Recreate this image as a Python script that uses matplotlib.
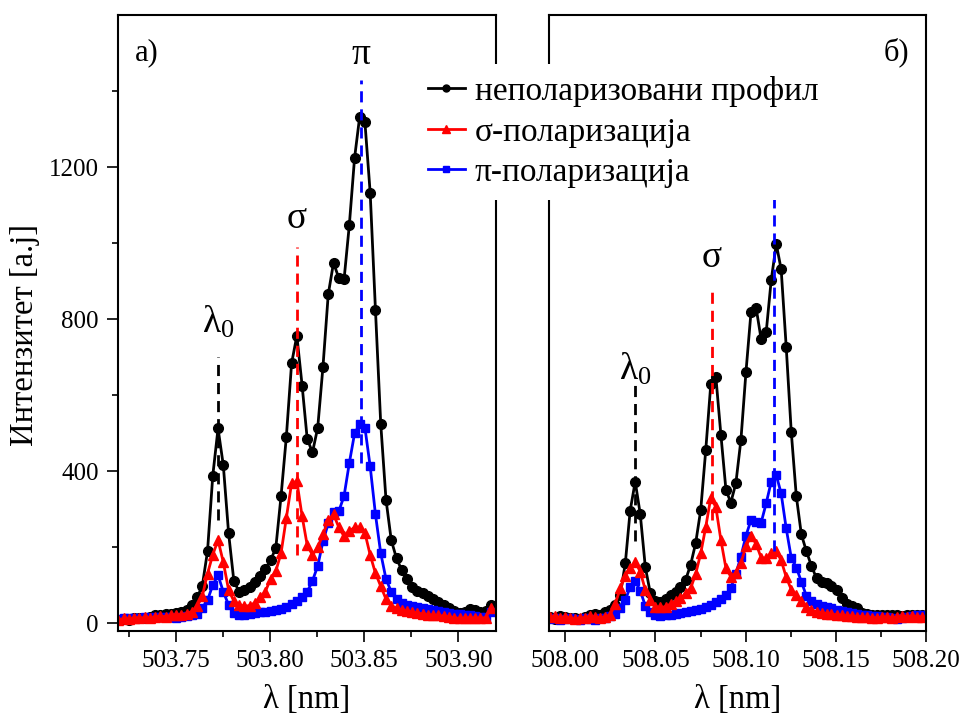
import matplotlib
matplotlib.use("Agg")
import matplotlib.pyplot as plt
from matplotlib.ticker import MultipleLocator, FixedLocator
from matplotlib.lines import Line2D

plt.rcParams['font.family'] = ['Liberation Serif', 'DejaVu Serif']
plt.rcParams['mathtext.fontset'] = 'custom'
plt.rcParams['mathtext.rm'] = 'Liberation Serif'
plt.rcParams['mathtext.default'] = 'rm'

# panel a) 503.7 nm
wl_a = [503.7192, 503.7220, 503.7248, 503.7276, 503.7304, 503.7332, 503.7359, 503.7387,
        503.7415, 503.7443, 503.7471, 503.7499, 503.7527, 503.7555, 503.7583, 503.7611,
        503.7638, 503.7666, 503.7694, 503.7722, 503.7750, 503.7778, 503.7806, 503.7834,
        503.7862, 503.7890, 503.7917, 503.7945, 503.7973, 503.8001, 503.8029, 503.8057,
        503.8085, 503.8113, 503.8141, 503.8169, 503.8196, 503.8224, 503.8252, 503.8280,
        503.8308, 503.8336, 503.8364, 503.8392, 503.8420, 503.8448, 503.8475, 503.8503,
        503.8531, 503.8559, 503.8587, 503.8615, 503.8643, 503.8671, 503.8699, 503.8727,
        503.8754, 503.8782, 503.8810, 503.8838, 503.8866, 503.8894, 503.8922, 503.8950,
        503.8978, 503.9006, 503.9033, 503.9061, 503.9089, 503.9117, 503.9145, 503.9173]
unpol_a = [8, 10, 9, 12, 14, 13, 17, 20, 22, 25, 24, 27, 30, 34, 48, 68,
           97, 189, 388, 512, 415, 237, 111, 82, 87, 94, 107, 123, 141, 165, 197, 334,
           489, 683, 756, 625, 485, 449, 514, 675, 865, 948, 908, 904, 1047, 1224, 1332, 1318,
           1132, 824, 525, 325, 218, 170, 139, 116, 95, 85, 78, 70, 63, 55, 47, 39,
           31, 26, 30, 36, 34, 28, 32, 48]
sigma_a = [8, 12, 10, 14, 12, 15, 13, 16, 18, 17, 20, 22, 22, 25, 30, 45,
           70, 130, 180, 218, 160, 87, 58, 48, 44, 46, 53, 68, 82, 116, 136, 184,
           276, 368, 373, 281, 205, 179, 199, 233, 271, 286, 252, 228, 242, 252, 252, 237,
           179, 131, 97, 63, 46, 39, 34, 32, 29, 26, 24, 22, 20, 20, 18, 16,
           14, 12, 12, 14, 12, 13, 14, 39]
pi_a = [10, 12, 12, 14, 13, 15, 14, 15, 16, 15, 15, 14, 16, 18, 20, 24,
        40, 60, 100, 126, 82, 48, 27, 22, 22, 24, 26, 28, 30, 32, 35, 38,
        42, 50, 58, 68, 82, 111, 150, 215, 262, 291, 294, 334, 421, 499, 523, 514,
        412, 286, 184, 116, 82, 63, 53, 48, 45, 42, 40, 37, 34, 32, 30, 27,
        25, 24, 22, 20, 18, 17, 16, 30]

# panel б) 508.1 nm
wl_b = [507.9914, 507.9942, 507.9970, 507.9998, 508.0026, 508.0054, 508.0081, 508.0109,
        508.0137, 508.0165, 508.0193, 508.0221, 508.0249, 508.0277, 508.0305, 508.0333,
        508.0360, 508.0388, 508.0416, 508.0444, 508.0472, 508.0500, 508.0528, 508.0556,
        508.0584, 508.0612, 508.0639, 508.0667, 508.0695, 508.0723, 508.0751, 508.0779,
        508.0807, 508.0835, 508.0863, 508.0891, 508.0918, 508.0946, 508.0974, 508.1002,
        508.1030, 508.1058, 508.1086, 508.1114, 508.1142, 508.1170, 508.1197, 508.1225,
        508.1253, 508.1281, 508.1309, 508.1337, 508.1365, 508.1393, 508.1421, 508.1449,
        508.1476, 508.1504, 508.1532, 508.1560, 508.1588, 508.1616, 508.1644, 508.1672,
        508.1700, 508.1728, 508.1755, 508.1783, 508.1811, 508.1839, 508.1867, 508.1895,
        508.1923, 508.1951, 508.1979]
unpol_b = [15, 10, 18, 15, 12, 14, 10, 15, 20, 25, 22, 28, 34, 47, 74, 157,
           296, 372, 286, 147, 78, 59, 56, 62, 74, 82, 96, 113, 153, 210, 297, 455,
           629, 648, 495, 350, 317, 368, 482, 661, 819, 830, 747, 765, 903, 997, 931, 727,
           503, 334, 233, 189, 150, 118, 107, 104, 98, 87, 65, 50, 45, 39, 27, 25,
           22, 22, 20, 22, 20, 20, 18, 20, 22, 20, 20]
sigma_b = [15, 18, 14, 16, 12, 10, 12, 14, 18, 15, 14, 16, 22, 50, 91, 125,
           144, 161, 135, 87, 60, 43, 41, 43, 50, 57, 65, 78, 91, 129, 183, 253,
           330, 305, 218, 144, 122, 131, 158, 202, 230, 208, 172, 170, 184, 189, 165, 121,
           88, 74, 59, 43, 34, 30, 27, 25, 23, 22, 20, 19, 18, 17, 16, 15,
           14, 14, 15, 16, 14, 16, 18, 16, 18, 17, 16]
pi_b = [10, 12, 8, 10, 14, 10, 8, 12, 10, 8, 12, 14, 18, 25, 40, 60,
        95, 110, 85, 45, 28, 20, 18, 20, 22, 24, 26, 28, 31, 34, 38, 42,
        47, 54, 62, 75, 92, 130, 175, 230, 271, 266, 264, 315, 372, 389, 341, 249,
        172, 146, 109, 71, 57, 50, 46, 42, 39, 35, 32, 30, 27, 25, 22, 20,
        18, 18, 16, 15, 12, 10, 14, 16, 18, 20, 20]

# component positions and labels: (wavelength, y from, y to, colour, text, text y)
marks_a = [(503.7722, 270, 700, 'black', 'λ$_0$', 790),
           (503.8142, 180, 990, 'red', 'σ', 1065),
           (503.8482, 420, 1430, 'blue', 'π', 1495)]
marks_b = [(508.0388, 215, 630, 'black', 'λ$_0$', 668),
           (508.0811, 270, 870, 'red', 'σ', 960),
           (508.1155, 190, 1115, 'blue', '', 0)]

y_major = [0, 400, 800, 1200]
y_minor = [200, 600, 1000, 1400]

legend_labels = ['неполаризовани профил', 'σ-поларизација', 'π-поларизација']

fig = plt.figure(figsize=(9.63, 7.17), dpi=100)
ax1 = fig.add_axes([118 / 963, 1 - 631 / 717, 378 / 963, 616 / 717])
ax2 = fig.add_axes([549 / 963, 1 - 631 / 717, 377 / 963, 616 / 717])


def draw_panel(ax, wl, unpol, sigma, pi, marks):
    ax.plot(wl, unpol, '-o', color='black', lw=2.0, ms=7, zorder=2)
    ax.plot(wl, pi, '-s', color='blue', lw=2.0, ms=6, zorder=2)
    ax.plot(wl, sigma, '-^', color='red', lw=2.0, ms=7.5, zorder=2)
    for x, y0, y1, c, txt, ty in marks:
        ax.plot([x, x], [y0, y1], color=c, lw=2.0, ls=(0, (4, 2.5)), zorder=4)
        if txt:
            ax.text(x, ty, txt, ha='center', va='center', fontsize=27)
    ax.set_ylim(-21, 1600)
    ax.xaxis.set_major_locator(MultipleLocator(0.05))
    ax.xaxis.set_minor_locator(MultipleLocator(0.025))
    ax.yaxis.set_major_locator(FixedLocator(y_major))
    ax.yaxis.set_minor_locator(FixedLocator(y_minor))
    ax.tick_params(which='both', direction='out', width=1.2, labelsize=18, pad=6)
    ax.tick_params(which='major', length=8)
    ax.tick_params(which='minor', length=4.5)
    for s in ax.spines.values():
        s.set_linewidth(1.5)
    ax.set_xlabel('λ [nm]', fontsize=23.5, labelpad=9)


draw_panel(ax1, wl_a, unpol_a, sigma_a, pi_a, marks_a)
draw_panel(ax2, wl_b, unpol_b, sigma_b, pi_b, marks_b)

ax1.set_xlim(503.719, 503.920)
ax1.xaxis.set_major_formatter(lambda v, p: f'{v:.2f}')
ax1.set_ylabel('Интензитет [a.j]', fontsize=23.5)
ax1.yaxis.set_label_coords(-0.206, 0.48)
ax1.text(0.045, 0.963, 'а)', transform=ax1.transAxes, fontsize=22, va='top')

ax2.set_xlim(507.991, 508.200)
ax2.xaxis.set_major_formatter(lambda v, p: f'{v:.2f}')
ax2.tick_params(axis='y', which='both', left=False, labelleft=False)
ax2.text(0.955, 0.963, 'б)', transform=ax2.transAxes, fontsize=22, va='top', ha='right')

handles = [Line2D([], [], color='black', marker='o', lw=2.0, ms=5),
           Line2D([], [], color='red', marker='^', lw=2.0, ms=5.5),
           Line2D([], [], color='blue', marker='s', lw=2.0, ms=4.5)]
leg = fig.legend(handles, legend_labels, loc='upper left',
                 bbox_to_anchor=(416 / 963, 1 - 64 / 717), fontsize=24,
                 frameon=True, fancybox=False, framealpha=1, borderaxespad=0,
                 handlelength=1.1, handletextpad=0.3, labelspacing=0.3, borderpad=0.36)
leg.get_frame().set_edgecolor('none')
leg.get_frame().set_facecolor('white')

fig.savefig('out.png', dpi=100)
